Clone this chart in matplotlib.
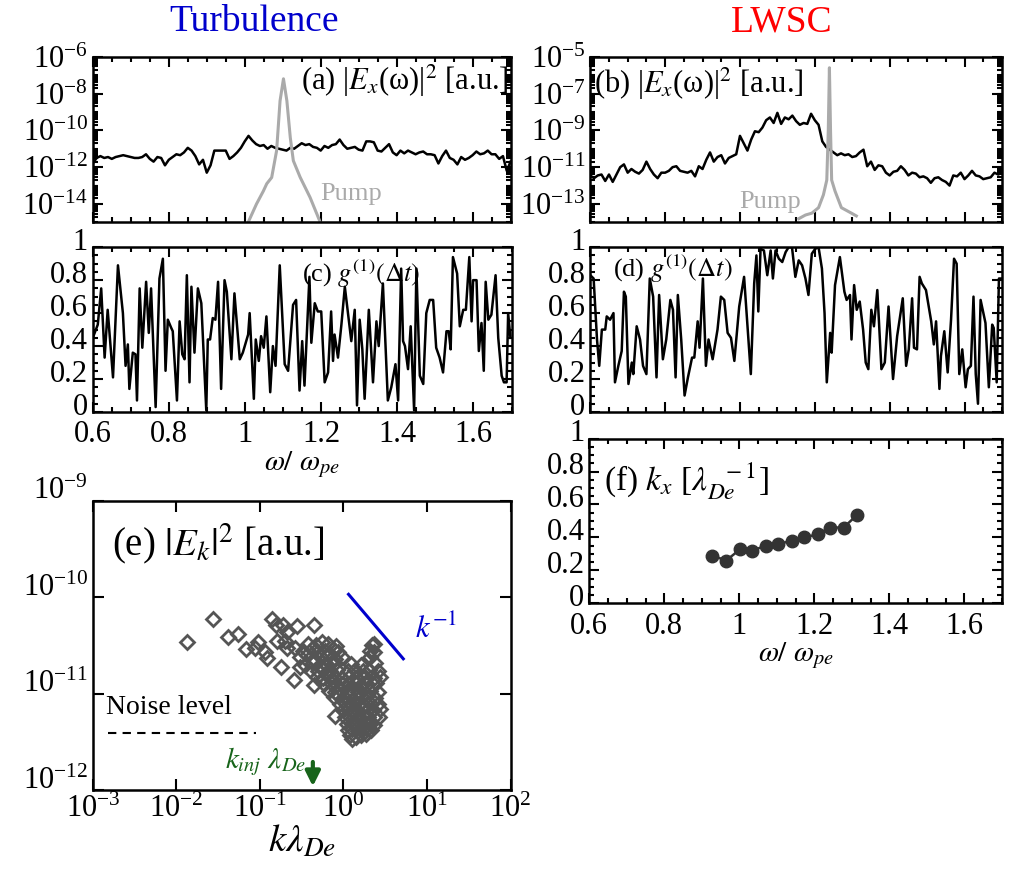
import numpy as np
import matplotlib
matplotlib.use('Agg')
from matplotlib import pyplot as plt
from matplotlib.ticker import MultipleLocator, LogLocator, FixedLocator, NullLocator, NullFormatter, FuncFormatter
from matplotlib.transforms import ScaledTranslation

plt.rcParams['font.family'] = 'serif'
plt.rcParams['font.serif'] = ['Liberation Serif', 'DejaVu Serif']
plt.rcParams['mathtext.fontset'] = 'stix'

# (a) turbulence spectrum, log10 of |E_x|^2, sampled every 0.01 from 0.6 to 1.7
turb_spec_exp = [-11.8, -11.5, -11.4, -11.5, -11.45, -11.55, -11.45, -11.4, -11.35, -11.4,
                 -11.45, -11.5, -11.5, -11.45, -11.3, -11.55, -11.7, -11.45, -11.5, -11.9,
                 -11.6, -11.45, -11.3, -11.35, -11.2, -10.95, -11.1, -11.4, -11.85, -11.6,
                 -12.3, -11.9, -11.1, -11.1, -11.1, -11.1, -11.55, -11.4, -11.2, -10.95,
                 -10.6, -10.3, -10.55, -10.75, -10.85, -10.8, -11.0, -10.85, -10.95, -11.0,
                 -11.05, -11.1, -10.95, -11.0, -10.85, -10.7, -10.8, -10.75, -10.9, -10.95,
                 -11.1, -10.85, -10.95, -10.8, -10.75, -10.5, -10.8, -11.0, -10.95, -10.9,
                 -11.05, -11.1, -10.6, -10.6, -10.65, -11.1, -11.15, -10.95, -10.75, -11.2,
                 -11.35, -11.1, -11.25, -11.1, -11.2, -11.3, -11.2, -11.15, -11.3, -11.3,
                 -11.35, -11.8, -11.4, -11.1, -11.5, -11.6, -11.85, -11.45, -11.6, -11.5,
                 -11.35, -11.15, -11.3, -11.25, -11.1, -11.3, -11.3, -11.55, -11.4, -12.2, -11.7]
turb_pump_w = [1.009, 1.031, 1.049, 1.058, 1.071, 1.084, 1.093, 1.102, 1.111, 1.120, 1.128, 1.146, 1.172, 1.199]
turb_pump_exp = [-15.0, -14.0, -13.3, -12.9, -12.56, -11.1, -8.4, -7.2, -8.4, -10.4, -11.65, -12.55, -13.64, -15.0]

# (b) LWSC spectrum
lwsc_spec_exp = [-11.45, -11.6, -11.45, -11.4, -11.75, -11.4, -11.8, -11.4, -11.0, -10.85,
                 -11.3, -11.1, -11.25, -11.35, -11.15, -10.7, -11.1, -11.4, -11.6, -11.3,
                 -11.3, -11.2, -11.0, -10.95, -11.2, -11.25, -11.3, -11.2, -11.5, -10.95,
                 -11.1, -10.6, -10.2, -10.7, -10.45, -10.35, -10.8, -10.5, -10.4, -10.3,
                 -9.3, -9.7, -10.1, -9.5, -9.05, -9.1, -8.85, -8.45, -8.3, -8.6,
                 -8.05, -8.65, -8.3, -8.4, -8.2, -8.5, -8.7, -8.6, -8.65, -8.1,
                 -8.45, -8.7, -9.6, -9.9, -10.05, -10.2, -10.35, -10.25, -10.35, -10.3,
                 -10.45, -10.4, -10.2, -10.05, -10.95, -10.7, -11.15, -10.9, -10.95, -11.3,
                 -11.45, -11.25, -11.2, -10.95, -11.15, -11.45, -11.3, -11.35, -11.55, -11.5,
                 -11.6, -11.85, -11.6, -11.55, -11.7, -11.8, -12.0, -11.45, -11.5, -11.3,
                 -11.65, -11.45, -11.2, -11.45, -11.5, -11.65, -11.6, -11.55, -11.3, -11.4, -11.3]
lwsc_pump_w = [1.157, 1.175, 1.192, 1.210, 1.223, 1.232, 1.236, 1.239, 1.242, 1.245, 1.254, 1.271, 1.298, 1.311]
lwsc_pump_exp = [-13.8, -13.6, -13.5, -13.2, -12.5, -11.7, -9.0, -5.6, -9.0, -11.7, -12.3, -13.2, -13.5, -13.65]

# (c) g1 turbulence
g1_turb_w = [0.600, 0.613, 0.622, 0.631, 0.639, 0.653, 0.666, 0.679, 0.686, 0.692, 0.696, 0.705, 0.712,
             0.716, 0.723, 0.730, 0.740, 0.747, 0.753, 0.765, 0.775, 0.784, 0.791, 0.797, 0.806, 0.810,
             0.821, 0.828, 0.835, 0.841, 0.847, 0.854, 0.859, 0.867, 0.876, 0.885, 0.898, 0.902, 0.908,
             0.915, 0.922, 0.929, 0.937, 0.946, 0.952, 0.964, 0.972, 0.986, 0.994, 1.008, 1.012, 1.023,
             1.028, 1.036, 1.042, 1.049, 1.056, 1.066, 1.073, 1.080, 1.091, 1.104, 1.113, 1.126, 1.134,
             1.143, 1.150, 1.156, 1.169, 1.174, 1.183, 1.191, 1.200, 1.209, 1.218, 1.226, 1.231, 1.235,
             1.244, 1.253, 1.262, 1.279, 1.288, 1.294, 1.301, 1.308, 1.314, 1.325, 1.336, 1.345, 1.351,
             1.362, 1.375, 1.384, 1.395, 1.402, 1.410, 1.415, 1.420, 1.428, 1.435, 1.444, 1.450, 1.459,
             1.468, 1.476, 1.485, 1.494, 1.502, 1.511, 1.520, 1.529, 1.535, 1.540, 1.546, 1.557, 1.564,
             1.573, 1.580, 1.589, 1.595, 1.599, 1.608, 1.614, 1.621, 1.627, 1.632, 1.639, 1.647, 1.658,
             1.665, 1.674, 1.680, 1.687, 1.691, 1.697]
g1_turb = [0.45, 0.53, 0.75, 0.33, 0.62, 0.21, 0.89, 0.60, 0.28, 0.41, 0.14, 0.36, 0.35,
           0.07, 0.75, 0.39, 0.79, 0.48, 0.75, 0.03, 0.81, 0.93, 0.25, 0.56, 0.51, 0.49,
           0.07, 0.55, 0.35, 0.32, 0.83, 0.18, 0.76, 0.36, 0.75, 0.66, 0.01, 0.44, 0.44,
           0.57, 0.56, 0.79, 0.14, 0.80, 0.73, 0.32, 0.72, 0.32, 0.36, 0.47, 0.60, 0.08,
           0.44, 0.31, 0.46, 0.39, 0.58, 0.12, 0.40, 0.28, 0.89, 0.29, 0.25, 0.65, 0.68,
           0.13, 0.43, 0.16, 0.82, 0.42, 0.66, 0.61, 0.61, 0.18, 0.24, 0.61, 0.31, 0.47,
           0.33, 0.53, 0.76, 0.43, 0.62, 0.04, 0.56, 0.38, 0.08, 0.62, 0.18, 0.55, 0.40,
           0.78, 0.07, 0.15, 0.29, 0.07, 0.87, 0.43, 0.40, 0.26, 0.52, 0.01, 0.87, 0.22,
           0.17, 0.60, 0.68, 0.68, 0.39, 0.33, 0.24, 0.49, 0.49, 0.38, 0.94, 0.84, 0.52,
           0.62, 0.62, 0.94, 0.55, 0.80, 0.80, 0.37, 0.54, 0.25, 0.79, 0.56, 0.59, 0.83,
           0.45, 0.22, 0.18, 0.18, 0.60, 0.45]

# (d) g1 LWSC
g1_lwsc_w = [0.600, 0.609, 0.618, 0.624, 0.631, 0.640, 0.644, 0.653, 0.662, 0.666, 0.675, 0.684, 0.690,
             0.695, 0.702, 0.711, 0.715, 0.724, 0.733, 0.741, 0.750, 0.759, 0.768, 0.777, 0.784, 0.794,
             0.803, 0.814, 0.821, 0.828, 0.834, 0.843, 0.852, 0.861, 0.872, 0.878, 0.887, 0.892, 0.901,
             0.909, 0.916, 0.927, 0.940, 0.949, 0.958, 0.967, 0.976, 0.985, 0.998, 1.011, 1.029, 1.038,
             1.044, 1.049, 1.055, 1.064, 1.073, 1.082, 1.088, 1.095, 1.104, 1.113, 1.122, 1.130, 1.139,
             1.148, 1.157, 1.166, 1.175, 1.183, 1.192, 1.201, 1.210, 1.219, 1.226, 1.232, 1.241, 1.245,
             1.254, 1.267, 1.279, 1.285, 1.294, 1.298, 1.305, 1.312, 1.320, 1.329, 1.336, 1.343, 1.351,
             1.358, 1.367, 1.378, 1.387, 1.397, 1.409, 1.420, 1.435, 1.444, 1.451, 1.460, 1.465, 1.473,
             1.480, 1.486, 1.497, 1.503, 1.511, 1.518, 1.524, 1.533, 1.537, 1.546, 1.555, 1.564, 1.572,
             1.579, 1.586, 1.594, 1.603, 1.609, 1.617, 1.624, 1.630, 1.636, 1.643, 1.656, 1.665, 1.674,
             1.678, 1.686, 1.692, 1.700]
g1_lwsc = [0.83, 0.81, 0.44, 0.28, 0.50, 0.50, 0.58, 0.56, 0.60, 0.18, 0.28, 0.37, 0.73,
           0.70, 0.17, 0.30, 0.23, 0.52, 0.44, 0.28, 0.23, 0.81, 0.70, 0.21, 0.71, 0.32,
           0.44, 0.68, 0.62, 0.21, 0.71, 0.44, 0.10, 0.21, 0.33, 0.33, 0.55, 0.39, 0.81,
           0.28, 0.44, 0.32, 0.50, 0.70, 0.68, 0.48, 0.45, 0.31, 0.64, 0.82, 0.23, 0.78,
           0.95, 0.61, 0.99, 0.98, 0.83, 0.98, 0.81, 0.98, 0.93, 0.91, 0.97, 1.00, 1.00,
           0.82, 0.92, 0.89, 0.81, 0.71, 0.96, 0.99, 1.00, 0.87, 0.60, 0.18, 0.48, 0.36,
           0.77, 0.94, 0.73, 0.68, 0.71, 0.44, 0.77, 0.62, 0.67, 0.50, 0.30, 0.26, 0.62,
           0.52, 0.74, 0.26, 0.30, 0.64, 0.20, 0.46, 0.69, 0.28, 0.38, 0.69, 0.39, 0.38,
           0.82, 0.78, 0.74, 0.66, 0.55, 0.41, 0.55, 0.14, 0.34, 0.49, 0.24, 0.56, 0.93,
           0.90, 0.23, 0.38, 0.15, 0.26, 0.28, 0.70, 0.23, 0.05, 0.68, 0.54, 0.15, 0.53,
           0.51, 0.18, 0.81, 0.81]

# (e) |E_k|^2 scatter
k_lam = [0.0135, 0.0275, 0.041, 0.054, 0.069, 0.095, 0.087, 0.115, 0.12, 0.138, 0.155, 0.19, 0.275,
         0.21, 0.162, 0.20, 0.21, 0.178, 0.26, 0.257, 0.44, 0.30, 0.44, 0.79, 2.34, 2.3,
         0.38, 0.47, 0.56, 0.66, 0.81, 2.2,
         0.33, 0.42, 0.50, 0.60, 0.75, 0.87, 2.1,
         0.30, 0.37, 0.45, 0.54, 0.66, 0.79, 0.95, 2.05,
         0.35, 0.43, 0.51, 0.62, 0.74, 0.88, 1.22, 1.62, 2.4,
         0.40, 0.49, 0.59, 0.69, 0.84, 1.12, 1.38, 1.70, 2.0, 2.6,
         0.48, 0.57, 0.67, 0.78, 0.95, 1.18, 1.45, 1.80, 2.3, 2.7,
         0.58, 0.70, 0.83, 0.98, 1.14, 1.36, 1.62, 1.92, 2.45,
         0.68, 0.80, 0.94, 1.10, 1.28, 1.50, 1.72, 2.05, 2.6,
         0.78, 0.88, 1.03, 1.20, 1.40, 1.62, 1.88, 2.4,
         0.90, 1.05, 1.24, 1.36, 1.55, 1.75, 2.10, 2.6,
         0.98, 1.12, 1.30, 1.45, 1.66, 1.90, 2.25, 2.7,
         1.05, 1.18, 1.35, 1.52, 1.72, 1.95, 2.3, 2.65,
         1.10, 1.26, 1.42, 1.60, 1.80, 2.05, 2.35,
         1.12, 1.28, 1.48, 1.68, 1.90, 2.15,
         1.20, 1.40, 1.62, 1.85,
         1.28]
E_k = [3.4e-11, 6.0e-11, 3.9e-11, 4.2e-11, 2.9e-11, 3.4e-11, 2.95e-11, 2.7e-11, 2.35e-11, 6.0e-11, 5.2e-11, 5.1e-11, 5.0e-11,
       4.4e-11, 3.5e-11, 3.5e-11, 3.0e-11, 1.9e-11, 3.0e-11, 1.38e-11, 5.1e-11, 1.9e-11, 1.23e-11, 5.9e-12, 3.3e-11, 2.7e-11,
       3.3e-11, 3.2e-11, 3.4e-11, 3.3e-11, 3.1e-11, 3.2e-11,
       2.8e-11, 2.9e-11, 2.7e-11, 2.8e-11, 2.9e-11, 2.7e-11, 2.8e-11,
       2.4e-11, 2.5e-11, 2.3e-11, 2.4e-11, 2.5e-11, 2.3e-11, 2.4e-11, 2.4e-11,
       2.0e-11, 2.1e-11, 1.95e-11, 2.05e-11, 2.0e-11, 1.9e-11, 2.05e-11, 2.0e-11, 2.1e-11,
       1.75e-11, 1.7e-11, 1.8e-11, 1.72e-11, 1.76e-11, 1.7e-11, 1.78e-11, 1.72e-11, 1.75e-11, 1.7e-11,
       1.5e-11, 1.45e-11, 1.5e-11, 1.48e-11, 1.46e-11, 1.5e-11, 1.47e-11, 1.5e-11, 1.45e-11, 1.5e-11,
       1.26e-11, 1.3e-11, 1.24e-11, 1.27e-11, 1.25e-11, 1.28e-11, 1.24e-11, 1.26e-11, 1.3e-11,
       1.07e-11, 1.05e-11, 1.1e-11, 1.06e-11, 1.08e-11, 1.05e-11, 1.09e-11, 1.07e-11, 1.05e-11,
       9.3e-12, 9.5e-12, 9.1e-12, 9.4e-12, 9.2e-12, 9.5e-12, 9.3e-12, 9.1e-12,
       7.9e-12, 8.1e-12, 7.8e-12, 8.0e-12, 7.9e-12, 7.7e-12, 8.0e-12, 7.9e-12,
       6.8e-12, 6.9e-12, 6.7e-12, 6.8e-12, 6.9e-12, 6.7e-12, 6.8e-12, 6.9e-12,
       5.8e-12, 5.9e-12, 5.7e-12, 5.8e-12, 5.9e-12, 5.8e-12, 5.7e-12, 5.8e-12,
       4.9e-12, 5.0e-12, 4.8e-12, 4.9e-12, 5.0e-12, 4.9e-12, 4.8e-12,
       4.2e-12, 4.3e-12, 4.1e-12, 4.2e-12, 4.3e-12, 4.2e-12,
       3.7e-12, 3.6e-12, 3.7e-12, 3.8e-12,
       3.4e-12]
ref_k = [1.15, 5.2]
ref_E = [1.07e-10, 2.3e-11]
noise_k = [1.5e-3, 0.09]
noise_E = [3.9e-12, 3.9e-12]
k_inj = 0.43
k_ticks = [1e-3, 1e-2, 1e-1, 1e0, 1e1, 1e2]
E_ticks = [1e-12, 1e-11, 1e-10, 1e-9]

# (f) k_x vs frequency
kx_w = [0.928, 0.965, 1.003, 1.035, 1.07, 1.103, 1.14, 1.173, 1.21, 1.241, 1.278, 1.313]
kx_val = [0.29, 0.26, 0.33, 0.32, 0.35, 0.36, 0.38, 0.40, 0.42, 0.46, 0.46, 0.535]

w_grid = np.linspace(0.6, 1.7, len(turb_spec_exp))
pump_grey = '#aaaaaa'
green = '#17641a'

fig = plt.figure(figsize=(10.09, 8.86), dpi=100)
ax_a = fig.add_axes([0.092, 0.749, 0.414, 0.187])
ax_b = fig.add_axes([0.585, 0.749, 0.408, 0.187])
ax_c = fig.add_axes([0.092, 0.535, 0.415, 0.186])
ax_d = fig.add_axes([0.585, 0.535, 0.408, 0.186])
ax_f = fig.add_axes([0.584, 0.319, 0.409, 0.186])
ax_e = fig.add_axes([0.092, 0.108, 0.414, 0.327])


def style(ax):
    ax.tick_params(which='both', direction='in', top=True, right=True, labelsize=22, width=1.5)
    ax.tick_params(which='major', length=7)
    ax.tick_params(which='minor', length=3.5)
    for s in ax.spines.values():
        s.set_linewidth(1.8)


def freq_axis(ax, labels):
    ax.set_xlim(0.6, 1.7)
    ax.xaxis.set_major_locator(MultipleLocator(0.2))
    ax.xaxis.set_minor_locator(MultipleLocator(0.05))
    ax.xaxis.set_major_formatter(FuncFormatter(lambda v, p: '%g' % round(v, 2)))
    style(ax)
    ax.tick_params(labelbottom=labels)
    ax.tick_params(axis='x', which='major', pad=6)


def g1_axis(ax):
    ax.set_ylim(0, 1)
    ax.yaxis.set_major_locator(MultipleLocator(0.2))
    ax.yaxis.set_minor_locator(MultipleLocator(0.05))
    ax.yaxis.set_major_formatter(FuncFormatter(lambda v, p: '%g' % round(v, 2)))


def spec_axis(ax, lo, hi, labelled):
    ax.set_yscale('log')
    ax.set_ylim(10.0 ** lo, 10.0 ** hi)
    ax.yaxis.set_major_locator(FixedLocator([10.0 ** e for e in labelled]))
    ax.yaxis.set_minor_locator(LogLocator(base=10, subs=np.arange(1, 10), numticks=40))
    ax.yaxis.set_minor_formatter(NullFormatter())


def lift_ylabels(ax, pts):
    for lab in ax.get_yticklabels():
        lab.set_transform(lab.get_transform() + ScaledTranslation(0, pts / 72, fig.dpi_scale_trans))


# (a)
ax_a.plot(w_grid, 10.0 ** np.array(turb_spec_exp), color='black', lw=1.8)
ax_a.plot(turb_pump_w, 10.0 ** np.array(turb_pump_exp), color=pump_grey, lw=2.2)
spec_axis(ax_a, -15, -6, [-14, -12, -10, -8, -6])
freq_axis(ax_a, False)
ax_a.text(0.995, 0.855, '(a) |$E_x$(ω)|$^2$ [a.u.]', transform=ax_a.transAxes, ha='right', va='center', fontsize=22)
ax_a.text(1.28, 10 ** -13.45, 'Pump', color=pump_grey, ha='center', va='center', fontsize=19)

# (b)
ax_b.plot(w_grid, 10.0 ** np.array(lwsc_spec_exp), color='black', lw=1.8)
ax_b.plot(lwsc_pump_w, 10.0 ** np.array(lwsc_pump_exp), color=pump_grey, lw=2.2)
spec_axis(ax_b, -14, -5, [-13, -11, -9, -7, -5])
freq_axis(ax_b, False)
ax_b.text(0.01, 0.835, '(b) |$E_x$(ω)|$^2$ [a.u.]', transform=ax_b.transAxes, ha='left', va='center', fontsize=22)
ax_b.text(1.08, 10 ** -12.9, 'Pump', color=pump_grey, ha='center', va='center', fontsize=19)

# (c)
ax_c.plot(g1_turb_w, g1_turb, color='black', lw=1.8)
g1_axis(ax_c)
freq_axis(ax_c, True)
lift_ylabels(ax_c, 6)
ax_c.text(0.5, 0.84, r'(c) $g^{(1)}(\mathit{\Delta t})$', transform=ax_c.transAxes, ha='left', va='center', fontsize=19)
ax_c.set_xlabel(r'$\omega/\ \omega_{pe}$', fontsize=21, labelpad=0)

# (d)
ax_d.plot(g1_lwsc_w, g1_lwsc, color='black', lw=1.8)
g1_axis(ax_d)
freq_axis(ax_d, False)
lift_ylabels(ax_d, 6)
ax_d.text(0.055, 0.87, r'(d) $g^{(1)}(\mathit{\Delta t})$', transform=ax_d.transAxes, ha='left', va='center', fontsize=19)

# (f)
ax_f.plot(kx_w, kx_val, color='#333333', lw=1.8, marker='o', markersize=9)
g1_axis(ax_f)
freq_axis(ax_f, True)
lift_ylabels(ax_f, 6)
ax_f.text(0.035, 0.74, r'(f) $k_x$ [$\lambda_{De}^{\ \ -1}$]', transform=ax_f.transAxes, ha='left', va='center', fontsize=24)
ax_f.set_xlabel(r'$\omega/\ \omega_{pe}$', fontsize=21, labelpad=0)

# (e)
ax_e.plot(k_lam, E_k, linestyle='none', marker='D', markersize=7, markerfacecolor='none',
          markeredgecolor='#555555', markeredgewidth=2)
ax_e.plot(ref_k, ref_E, color='#0000cc', lw=2.2)
ax_e.plot(noise_k, noise_E, color='black', lw=1.5, linestyle=(0, (4, 3)))
ax_e.annotate('', xy=(k_inj, 1.03e-12), xytext=(k_inj, 2.1e-12),
              arrowprops=dict(arrowstyle='-|>', color=green, lw=3, mutation_scale=22))
ax_e.set_xscale('log')
ax_e.set_yscale('log')
ax_e.set_xlim(1e-3, 1e2)
ax_e.set_ylim(1e-12, 1e-9)
ax_e.xaxis.set_major_locator(FixedLocator(k_ticks))
ax_e.yaxis.set_major_locator(FixedLocator(E_ticks))
ax_e.xaxis.set_minor_locator(NullLocator())
ax_e.yaxis.set_minor_locator(NullLocator())
style(ax_e)
ax_e.tick_params(which='major', length=8)
lift_ylabels(ax_e, 9)
ax_e.text(0.045, 0.85, r'(e) $|E_k|^2$ [a.u.]', transform=ax_e.transAxes, ha='left', va='center', fontsize=28)
ax_e.text(13, 4.6e-11, r'$k^{-1}$', color='#0000cc', ha='center', va='center', fontsize=22)
ax_e.text(1.45e-3, 5.4e-12, 'Noise level', ha='left', va='bottom', fontsize=20)
ax_e.text(0.36, 2.0e-12, r'$k_{inj}\ \lambda_{De}$', color=green, ha='right', va='center', fontsize=21)
ax_e.set_xlabel(r'$k\lambda_{De}$', fontsize=28, labelpad=0)

fig.text(0.252, 0.975, 'Turbulence', color='#0000cc', ha='center', va='center', fontsize=27)
fig.text(0.775, 0.975, 'LWSC', color='#ff0000', ha='center', va='center', fontsize=27)

fig.savefig('out.png', dpi=100)
